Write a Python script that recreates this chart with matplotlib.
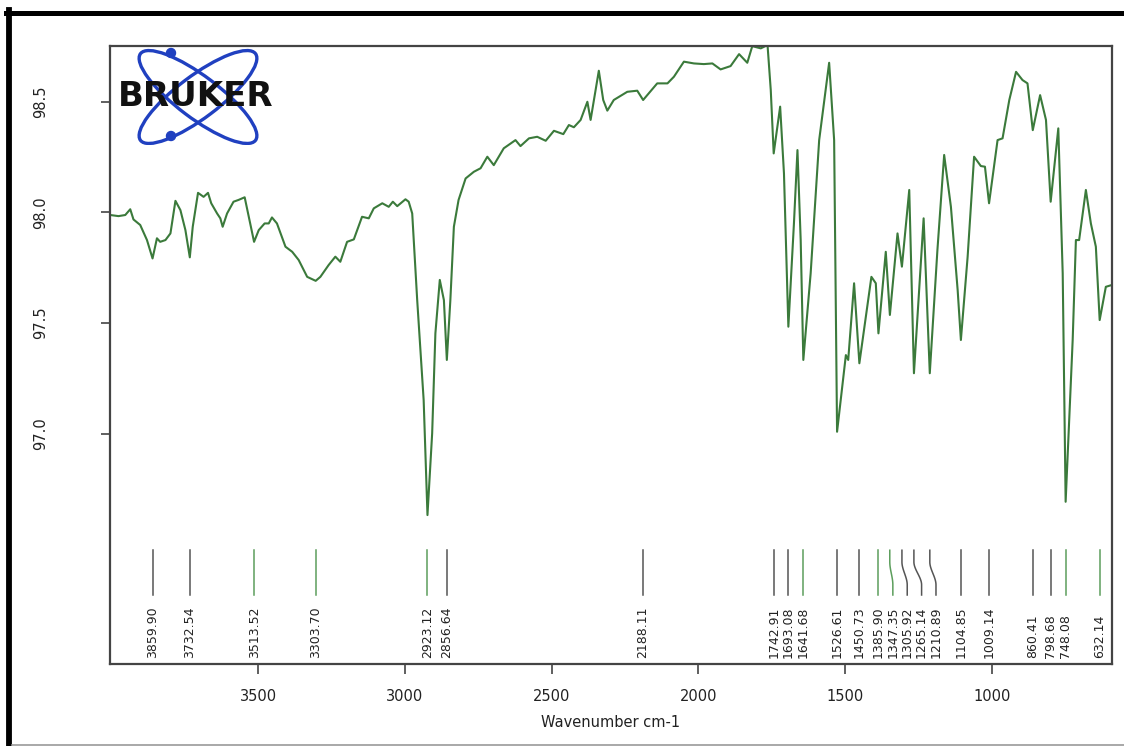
"""FT-IR transmittance spectrum with picked peaks, drawn in the OPUS style."""

import numpy as np
import matplotlib.pyplot as plt
from matplotlib.lines import Line2D
from matplotlib.patches import Ellipse, Circle
from matplotlib.transforms import blended_transform_factory

W, H, DPI = 1124, 746, 100

# spectrum (cm-1, %T)
wavenumber = [
    4004, 3976, 3953, 3936, 3925, 3902, 3879, 3860, 3845, 3834,
    3816, 3799, 3782, 3765, 3748, 3733, 3723, 3705, 3686, 3671,
    3660, 3640, 3629, 3621, 3606, 3584, 3567, 3546, 3532, 3514,
    3498, 3478, 3464, 3453, 3436, 3407, 3384, 3362, 3333, 3304,
    3288, 3260, 3237, 3220, 3197, 3174, 3146, 3123, 3106, 3077,
    3055, 3041, 3026, 2998, 2987, 2975, 2958, 2947, 2936, 2923,
    2907, 2896, 2881, 2867, 2857, 2845, 2833, 2817, 2793, 2765,
    2742, 2719, 2697, 2663, 2623, 2606, 2577, 2549, 2520, 2492,
    2460, 2441, 2424, 2401, 2378, 2367, 2350, 2339, 2324, 2310,
    2288, 2242, 2208, 2188, 2140, 2105, 2083, 2049, 2015, 1981,
    1952, 1924, 1890, 1861, 1833, 1816, 1787, 1764, 1753, 1743,
    1721, 1708, 1693, 1674, 1662, 1651, 1642, 1617, 1588, 1554,
    1537, 1527, 1497, 1489, 1469, 1451, 1429, 1410, 1395, 1386,
    1361, 1347, 1321, 1306, 1281, 1265, 1232, 1211, 1185, 1162,
    1139, 1116, 1105, 1082, 1060, 1037, 1023, 1009, 980, 963,
    940, 917, 895, 878, 860, 835, 815, 799, 773, 758,
    748, 724, 713, 702, 679, 662, 645, 632, 611, 591,
]
transmittance = [
    97.988, 97.983, 97.988, 98.014, 97.968, 97.943, 97.875, 97.792, 97.883, 97.867,
    97.875, 97.905, 98.052, 98.010, 97.920, 97.797, 97.935, 98.088, 98.070, 98.088,
    98.041, 97.995, 97.973, 97.935, 97.995, 98.048, 98.056, 98.068, 97.980, 97.867,
    97.920, 97.950, 97.950, 97.977, 97.950, 97.845, 97.822, 97.785, 97.709, 97.691,
    97.709, 97.762, 97.800, 97.777, 97.867, 97.878, 97.980, 97.973, 98.018, 98.041,
    98.025, 98.048, 98.028, 98.059, 98.048, 97.995, 97.604, 97.379, 97.153, 96.634,
    97.003, 97.454, 97.695, 97.604, 97.334, 97.604, 97.935, 98.056, 98.153, 98.183,
    98.199, 98.251, 98.213, 98.289, 98.326, 98.299, 98.334, 98.341, 98.323, 98.368,
    98.353, 98.394, 98.384, 98.417, 98.499, 98.417, 98.552, 98.639, 98.507, 98.459,
    98.507, 98.544, 98.549, 98.507, 98.582, 98.582, 98.612, 98.680, 98.672, 98.669,
    98.672, 98.645, 98.660, 98.714, 98.675, 98.750, 98.740, 98.755, 98.552, 98.266,
    98.477, 98.176, 97.484, 97.950, 98.281, 97.875, 97.334, 97.725, 98.326, 98.675,
    98.326, 97.010, 97.356, 97.334, 97.680, 97.319, 97.529, 97.709, 97.680, 97.454,
    97.822, 97.537, 97.905, 97.755, 98.101, 97.274, 97.973, 97.274, 97.830, 98.259,
    98.025, 97.649, 97.424, 97.800, 98.251, 98.209, 98.206, 98.041, 98.326, 98.334,
    98.507, 98.634, 98.597, 98.582, 98.371, 98.529, 98.417, 98.048, 98.379, 97.725,
    96.694, 97.424, 97.875, 97.875, 98.101, 97.950, 97.845, 97.514, 97.664, 97.672,
]

# picked peaks
peaks = [3859.90, 3732.54, 3513.52, 3303.70, 2923.12, 2856.64, 2188.11,
         1742.91, 1693.08, 1641.68, 1526.61, 1450.73, 1385.90, 1347.35,
         1305.92, 1265.14, 1210.89, 1104.85, 1009.14, 860.41, 798.68,
         748.08, 632.14]
peak_green = [False, False, True, True, True, False, False,
              False, False, True, False, False, True, True,
              False, False, False, False, False, False, False,
              True, True]

x_ticks = [3500, 3000, 2500, 2000, 1500, 1000]
y_ticks = [97.0, 97.5, 98.0, 98.5]

LINE = '#3b7a3b'
GREEN = '#5c9e5c'
GREY = '#555555'
AXIS = '#444444'
LOGO_BLUE = '#2040c0'


def leader(ax, x_peak, x_label, trans, color):
    # straight drop, S-bend over to the label slot, straight again
    y_top, y_b0, y_b1, y_bot = 0.184, 0.165, 0.128, 0.1116
    t = np.linspace(0, 1, 30)
    s = t * t * (3 - 2 * t)
    xs = np.concatenate([[x_peak, x_peak], x_peak + (x_label - x_peak) * s, [x_label]])
    ys = np.concatenate([[y_top, y_b0], y_b0 + (y_b1 - y_b0) * t, [y_bot]])
    ax.plot(xs, ys, transform=trans, color=color, lw=1.1, clip_on=False)


def main():
    fig = plt.figure(figsize=(W / DPI, H / DPI), dpi=DPI, facecolor='white')
    ax = fig.add_axes([110 / W, 82 / H, 1001.7 / W, 618.3 / H])

    ax.plot(wavenumber, transmittance, color=LINE, lw=1.5)
    ax.set_xlim(4005, 591)
    ax.set_ylim(95.962, 98.752)

    ax.set_xticks(x_ticks)
    ax.set_xticklabels([str(v) for v in x_ticks])
    ax.set_yticks(y_ticks)
    ax.set_yticklabels([f'{v:.1f}' for v in y_ticks], rotation=90, va='center')
    ax.tick_params(axis='x', direction='out', length=7, width=1.2, pad=11,
                   labelsize=10.5, colors=AXIS, labelcolor='#222222')
    ax.tick_params(axis='y', direction='out', length=6.5, width=1.2, pad=38,
                   labelsize=10.5, colors=AXIS, labelcolor='#222222')
    ax.set_xlabel('Wavenumber cm-1', fontsize=10.5, color='#222222', labelpad=8)
    for sp in ax.spines.values():
        sp.set_color(AXIS)
        sp.set_linewidth(1.6)

    # peak markers, labels spread apart where peaks crowd together
    trans = blended_transform_factory(ax.transData, ax.transAxes)
    min_gap = 49.0
    slots = []
    for p in peaks:
        slot = p if not slots else min(p, slots[-1] - min_gap)
        slots.append(slot)
    for p, slot, green in zip(peaks, slots, peak_green):
        leader(ax, p, slot, trans, GREEN if green else GREY)
        ax.text(slot, 0.0092, f'{p:.2f}', transform=trans, rotation=90,
                ha='center', va='bottom', fontsize=9, color='#222222')

    # Bruker logo in the top-left corner
    logo = fig.add_axes([110 / W, (H - 145) / H, 180 / W, 100 / H])
    logo.set_xlim(110, 290)
    logo.set_ylim(145, 45)
    logo.axis('off')
    for ang in (37, -37):
        logo.add_patch(Ellipse((198, 97), 144, 42, angle=ang, fill=False,
                               ec=LOGO_BLUE, lw=2.4))
    for cy in (53, 136):
        logo.add_patch(Circle((171, cy), 4.5, color=LOGO_BLUE))
    logo.text(196, 96, 'BRUKER', ha='center', va='center', fontsize=24.5,
              fontweight='heavy', color='#111111', clip_on=False)

    # page frame around the figure
    fig.add_artist(Line2D([9 / W, 9 / W], [0, 1 - 10 / H], color='black', lw=4.2))
    fig.add_artist(Line2D([6 / W, 1], [1 - 12.5 / H, 1 - 12.5 / H], color='black', lw=3.6))
    fig.add_artist(Line2D([12 / W, 1], [1.2 / H, 1.2 / H], color='#999999', lw=1.2))

    fig.savefig('out.png', dpi=DPI, facecolor='white')
    plt.close(fig)


if __name__ == '__main__':
    main()
